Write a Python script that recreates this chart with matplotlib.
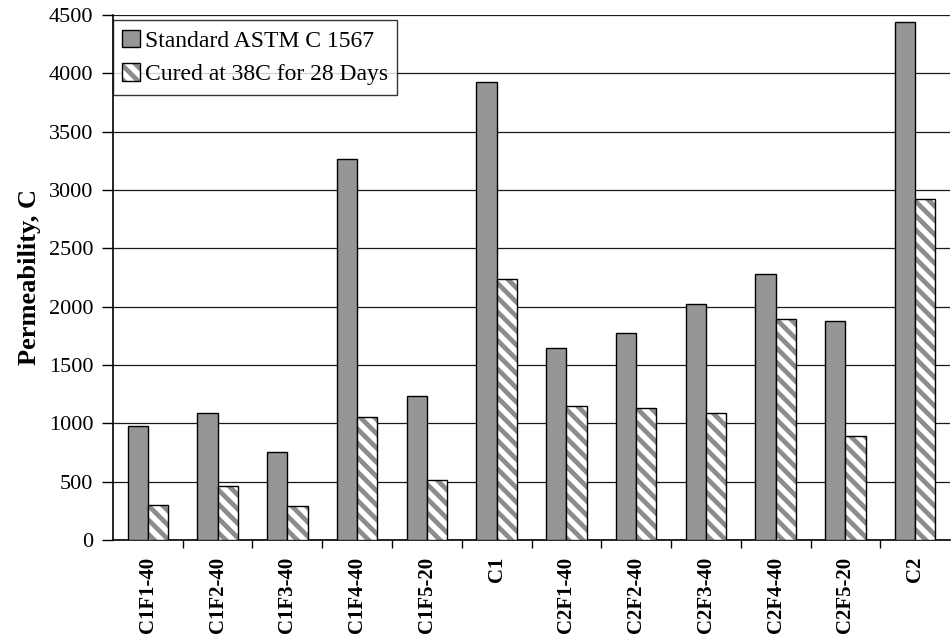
import numpy as np
import matplotlib
matplotlib.use("Agg")
import matplotlib.pyplot as plt
import matplotlib.hatch as mhatch
from matplotlib.ticker import FixedLocator, MultipleLocator

plt.rcParams["font.family"] = ["Liberation Serif", "DejaVu Serif"]
plt.rcParams["hatch.linewidth"] = 3.4


class WideSouthEastHatch(mhatch.SouthEastHatch):
    # 14 stripes per hatch unit for "\\" instead of 12, still tiles cleanly
    def __init__(self, hatch, density):
        self.num_lines = int(hatch.count("\\") * density * 7 / 6)
        self.num_vertices = (self.num_lines + 1) * 2 if self.num_lines else 0


mhatch._hatch_types = [WideSouthEastHatch if t is mhatch.SouthEastHatch else t
                       for t in mhatch._hatch_types]

MIXES = ["C1F1-40", "C1F2-40", "C1F3-40", "C1F4-40", "C1F5-20", "C1",
         "C2F1-40", "C2F2-40", "C2F3-40", "C2F4-40", "C2F5-20", "C2"]
STANDARD = [975, 1085, 755, 3265, 1230, 3925, 1645, 1770, 2020, 2280, 1877, 4443]
CURED_38C = [298, 465, 292, 1055, 510, 2235, 1150, 1135, 1085, 1891, 891, 2923]

GRAY = "#969696"
HATCH_GRAY = "#8c8c8c"

fig = plt.figure(figsize=(9.51, 6.41), dpi=100)
ax = fig.add_axes([0.1188, 0.1576, 0.8802, 0.819])

x = np.arange(len(MIXES)) + 0.5
width = 0.29
std = ax.bar(x - width / 2, STANDARD, width, color=GRAY, edgecolor="black",
             linewidth=1.0, zorder=3)
# hatch takes the edge colour, so draw the stripes and the black outline separately
stripes = ax.bar(x + width / 2, CURED_38C, width, color="white",
                 edgecolor=HATCH_GRAY, hatch="\\\\", linewidth=0, zorder=3)
outline = ax.bar(x + width / 2, CURED_38C, width, fill=False,
                 edgecolor="black", linewidth=1.0, zorder=4)

ax.set_xlim(0, len(MIXES))
ax.set_ylim(0, 4500)
ax.yaxis.set_major_locator(MultipleLocator(500))
ax.grid(axis="y", color="#1a1a1a", linewidth=0.9, zorder=0)

ax.set_xticks(x)
ax.set_xticklabels(MIXES, rotation=90, fontweight="bold", fontsize=15)
ax.xaxis.set_minor_locator(FixedLocator(np.arange(1, len(MIXES))))
ax.tick_params(axis="x", which="major", length=0, pad=12)
ax.tick_params(axis="x", which="minor", length=6, width=1, direction="out")
ax.tick_params(axis="y", length=8, width=1, direction="out", labelsize=16, pad=6)

for side in ("top", "right"):
    ax.spines[side].set_visible(False)
ax.spines["left"].set_linewidth(1.2)
ax.spines["bottom"].set_linewidth(1.2)

ax.set_ylabel("Permeability, C", fontsize=19, fontweight="bold", labelpad=6)

leg = ax.legend([std[0], (stripes[0], outline[0])],
                ["Standard ASTM C 1567", "Cured at 38C for 28 Days"],
                loc="upper left", bbox_to_anchor=(0.0, 0.99), fontsize=17,
                frameon=True, fancybox=False, borderaxespad=0,
                handlelength=0.75, handleheight=0.75, handletextpad=0.2,
                labelspacing=0.5, borderpad=0.4)
leg.get_frame().set_edgecolor("black")
leg.get_frame().set_linewidth(1.0)
leg.set_zorder(5)

fig.savefig("out.png", dpi=100)
